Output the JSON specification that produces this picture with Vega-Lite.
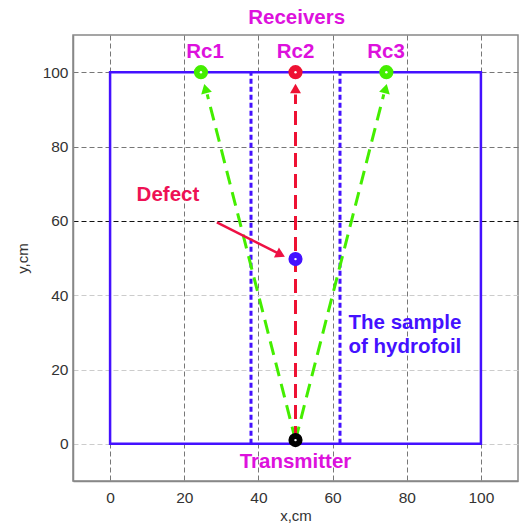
{
  "$schema": "https://vega.github.io/schema/vega-lite/v6.json",
  "width": 445,
  "height": 446,
  "autosize": {"type": "none"},
  "padding": {"left": 73, "top": 35, "right": 4, "bottom": 45},
  "background": "white",
  "config": {
    "view": {"stroke": "#888888", "strokeWidth": 1.5},
    "font": "Liberation Sans",
    "axis": {
      "labelFont": "Liberation Sans",
      "titleFont": "Liberation Sans",
      "labelFontSize": 15.5,
      "titleFontSize": 15,
      "labelColor": "#333333",
      "titleColor": "#333333",
      "titleFontWeight": "normal",
      "domainColor": "#888888",
      "domainWidth": 1.5,
      "ticks": false,
      "gridDash": [5, 3],
      "gridWidth": 1
    }
  },
  "resolve": {"scale": {"color": "independent"}},
  "datasets": {
    "segments": [
      {"group": "band", "x": 38, "y": 0, "x2": 38, "y2": 100},
      {"group": "band", "x": 62, "y": 0, "x2": 62, "y2": 100},
      {"group": "green", "x": 50, "y": 1, "x2": 26.2, "y2": 94},
      {"group": "green", "x": 50, "y": 1, "x2": 73.8, "y2": 94},
      {"group": "red", "x": 50, "y": 1, "x2": 50, "y2": 94},
      {"group": "defect", "x": 28.8, "y": 59.6, "x2": 45.5, "y2": 51.2}
    ],
    "heads": [
      {"name": "Rc1", "x": 25.7, "y": 95.6},
      {"name": "Rc2", "x": 50, "y": 95.6},
      {"name": "Rc3", "x": 74.3, "y": 95.6},
      {"name": "Defect", "x": 46, "y": 50.9}
    ],
    "points": [
      {"name": "Rc1", "x": 24.5, "y": 100},
      {"name": "Rc2", "x": 50, "y": 100},
      {"name": "Rc3", "x": 74.5, "y": 100},
      {"name": "Defect", "x": 50, "y": 49.7},
      {"name": "Transmitter", "x": 50, "y": 1}
    ],
    "labels": [
      {"name": "Receivers", "text": "Receivers", "x": 50.3, "y": 114.5},
      {"name": "Rc", "text": "Rc1", "x": 25.6, "y": 105.5},
      {"name": "Rc", "text": "Rc2", "x": 50, "y": 105.5},
      {"name": "Rc", "text": "Rc3", "x": 74.4, "y": 105.5},
      {"name": "Transmitter", "text": "Transmitter", "x": 50, "y": -4.8},
      {"name": "Defect", "text": "Defect", "x": 15.6, "y": 66.9},
      {"name": "Sample", "text": "The sample", "x": 79.5, "y": 32.6},
      {"name": "Sample", "text": "of hydrofoil", "x": 79.5, "y": 26.1}
    ],
    "box": [{"x": 0, "y": 0, "x2": 100, "y2": 100}]
  },
  "layer": [
    {
      "data": {"name": "box"},
      "mark": {"type": "rect", "filled": false, "stroke": "#4411ff", "strokeWidth": 2.5},
      "encoding": {
        "x": {
          "field": "x", "type": "quantitative",
          "scale": {"domain": [-10, 110], "nice": false, "zero": false},
          "axis": {
            "values": [0, 20, 40, 60, 80, 100],
            "title": "x,cm",
            "labelPadding": 9,
            "titlePadding": 3,
            "grid": true,
            "gridColor": "#777777"
          }
        },
        "x2": {"field": "x2"},
        "y": {
          "field": "y", "type": "quantitative",
          "scale": {"domain": [-10, 110], "nice": false, "zero": false},
          "axis": {
            "values": [0, 20, 40, 60, 80, 100],
            "title": "y,cm",
            "labelPadding": 5,
            "titlePadding": 12,
            "grid": true,
            "gridColor": {
              "condition": [
                {"test": "datum.value === 60", "value": "#111111"},
                {"test": "datum.value <= 40", "value": "#cccccc"}
              ],
              "value": "#777777"
            }
          }
        },
        "y2": {"field": "y2"}
      }
    },
    {
      "data": {"name": "segments"},
      "transform": [{"filter": "datum.group === 'band'"}],
      "mark": {"type": "rule", "color": "#4411ff", "strokeWidth": 3, "strokeDash": [5, 3]},
      "encoding": {
        "x": {"field": "x", "type": "quantitative"},
        "y": {"field": "y", "type": "quantitative"},
        "x2": {"field": "x2"},
        "y2": {"field": "y2"}
      }
    },
    {
      "data": {"name": "segments"},
      "transform": [{"filter": "datum.group === 'green'"}],
      "mark": {"type": "rule", "color": "#44ee00", "strokeWidth": 3, "strokeDash": [14, 8]},
      "encoding": {
        "x": {"field": "x", "type": "quantitative"},
        "y": {"field": "y", "type": "quantitative"},
        "x2": {"field": "x2"},
        "y2": {"field": "y2"}
      }
    },
    {
      "data": {"name": "segments"},
      "transform": [{"filter": "datum.group === 'red'"}],
      "mark": {"type": "rule", "color": "#ee1133", "strokeWidth": 3, "strokeDash": [14, 7]},
      "encoding": {
        "x": {"field": "x", "type": "quantitative"},
        "y": {"field": "y", "type": "quantitative"},
        "x2": {"field": "x2"},
        "y2": {"field": "y2"}
      }
    },
    {
      "data": {"name": "segments"},
      "transform": [{"filter": "datum.group === 'defect'"}],
      "mark": {"type": "rule", "color": "#ee1144", "strokeWidth": 2.5},
      "encoding": {
        "x": {"field": "x", "type": "quantitative"},
        "y": {"field": "y", "type": "quantitative"},
        "x2": {"field": "x2"},
        "y2": {"field": "y2"}
      }
    },
    {
      "data": {"name": "heads"},
      "mark": {"type": "point", "shape": "triangle-up", "filled": true, "size": 120, "opacity": 1},
      "encoding": {
        "x": {"field": "x", "type": "quantitative"},
        "y": {"field": "y", "type": "quantitative"},
        "color": {
          "field": "name", "type": "nominal", "legend": null,
          "scale": {"domain": ["Rc1", "Rc2", "Rc3", "Defect"], "range": ["#44ee00", "#ee1133", "#44ee00", "#ee1144"]}
        },
        "angle": {
          "condition": [
            {"test": "datum.name === 'Rc1'", "value": -14},
            {"test": "datum.name === 'Rc3'", "value": 14},
            {"test": "datum.name === 'Defect'", "value": 117}
          ],
          "value": 0
        }
      }
    },
    {
      "data": {"name": "points"},
      "mark": {"type": "circle", "size": 200, "opacity": 1},
      "encoding": {
        "x": {"field": "x", "type": "quantitative"},
        "y": {"field": "y", "type": "quantitative"},
        "color": {
          "field": "name", "type": "nominal", "legend": null,
          "scale": {"domain": ["Rc1", "Rc2", "Rc3", "Defect", "Transmitter"], "range": ["#44ee00", "#ee1133", "#44ee00", "#4411ff", "#000000"]}
        }
      }
    },
    {
      "data": {"name": "points"},
      "mark": {"type": "circle", "size": 6, "opacity": 1, "color": "white"},
      "encoding": {
        "x": {"field": "x", "type": "quantitative"},
        "y": {"field": "y", "type": "quantitative"}
      }
    },
    {
      "data": {"name": "labels"},
      "mark": {"type": "text", "font": "Liberation Sans", "fontWeight": "bold", "fontSize": 20.5, "align": "center", "baseline": "middle", "clip": false},
      "encoding": {
        "x": {"field": "x", "type": "quantitative"},
        "y": {"field": "y", "type": "quantitative"},
        "text": {"field": "text"},
        "color": {
          "field": "name", "type": "nominal", "legend": null,
          "scale": {"domain": ["Receivers", "Rc", "Transmitter", "Defect", "Sample"], "range": ["#dd11dd", "#dd11dd", "#dd11dd", "#ee1155", "#4411ff"]}
        }
      }
    }
  ]
}
